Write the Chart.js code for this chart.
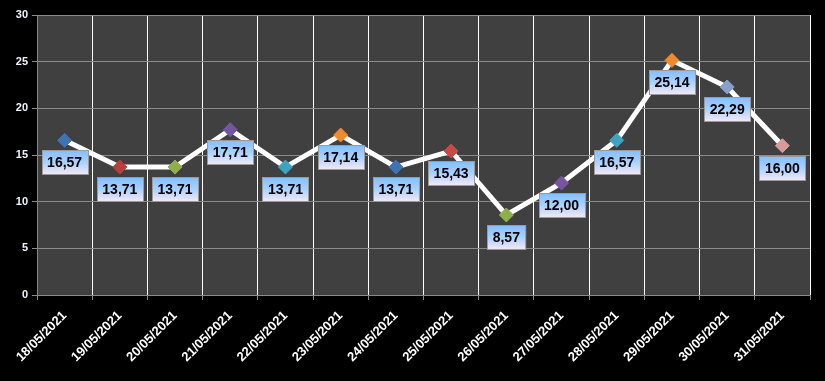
<!DOCTYPE html>
<html>
<head>
<meta charset="utf-8">
<script src="https://cdn.jsdelivr.net/npm/chart.js@4/dist/chart.umd.min.js"></script>
<style>
html,body{margin:0;padding:0;background:#000;}
#wrap{width:825px;height:381px;position:relative;}
</style>
</head>
<body>
<div id="wrap"><canvas id="c" width="825" height="381"></canvas></div>
<script>
const categories = ["18/05/2021","19/05/2021","20/05/2021","21/05/2021","22/05/2021","23/05/2021","24/05/2021","25/05/2021","26/05/2021","27/05/2021","28/05/2021","29/05/2021","30/05/2021","31/05/2021"];
const values = [16.57,13.71,13.71,17.71,13.71,17.14,13.71,15.43,8.57,12.00,16.57,25.14,22.29,16.00];
const yTicks = [0,5,10,15,20,25,30];
const markerColors = ["#3F73B5","#B8403C","#8DB04A","#7456A0","#3DA3C0","#F08A2E","#3F73B5","#C84A46","#8DB04A","#7456A0","#3DA3C0","#F08A2E","#889FC8","#D89A9A"];

const bgPlugin = {
  id:'bg',
  beforeDraw(chart){
    const {ctx, chartArea:a} = chart;
    ctx.save();
    ctx.fillStyle='#000';
    ctx.fillRect(0,0,chart.width,chart.height);
    ctx.fillStyle='#404040';
    ctx.fillRect(a.left,a.top,a.right-a.left,a.bottom-a.top);
    ctx.restore();
  }
};

const labelPlugin = {
  id:'dlabels',
  afterDatasetsDraw(chart){
    const ctx = chart.ctx;
    const meta = chart.getDatasetMeta(0);
    ctx.save();
    ctx.font = 'bold 14px "Liberation Sans", Arial, sans-serif';
    ctx.textAlign='center';
    ctx.textBaseline='middle';
    meta.data.forEach((pt,i)=>{
      const txt = values[i].toFixed(2).replace('.',',');
      const w = ctx.measureText(txt).width + 11;
      const h = 24;
      const cx = pt.x, cy = pt.y + 22;
      const x0 = Math.round(cx - w/2)+0.5, y0 = Math.round(cy - h/2)+0.5;
      const g = ctx.createLinearGradient(0,y0,0,y0+h);
      g.addColorStop(0,'#84BEFF');
      g.addColorStop(0.5,'#A9D2FF');
      g.addColorStop(1,'#F6E8F4');
      ctx.fillStyle=g;
      ctx.fillRect(x0,y0,w,h);
      ctx.strokeStyle='#9A9A9A';
      ctx.lineWidth=1;
      ctx.strokeRect(x0,y0,w,h);
      ctx.fillStyle='#000';
      ctx.fillText(txt,cx,cy+1);
    });
    ctx.restore();
  }
};

new Chart(document.getElementById('c'),{
  type:'line',
  data:{
    labels:categories,
    datasets:[{
      data:values,
      borderColor:'#FFFFFF',
      borderWidth:5,
      pointStyle:'rectRot',
      pointRadius:7,
      pointHoverRadius:7,
      pointBackgroundColor:markerColors,
      pointBorderColor:markerColors,
      pointBorderWidth:1,
      tension:0
    }]
  },
  options:{
    responsive:false,
    animation:false,
    events:[],
    layout:{padding:{left:0,top:15,right:15,bottom:0}},
    plugins:{legend:{display:false},tooltip:{enabled:false}},
    scales:{
      x:{
        offset:true,
        grid:{offset:true,color:'#FFFFFF',lineWidth:1,tickLength:5,tickColor:'#8A8A8A',drawOnChartArea:true},
        border:{color:'#8A8A8A'},
        ticks:{color:'#FFFFFF',font:{family:'"Liberation Sans", Arial, sans-serif',size:13,weight:'bold'},minRotation:45,maxRotation:45,autoSkip:false,padding:8},
        afterFit(s){s.height=86;}
      },
      y:{
        min:0,max:30,
        afterBuildTicks(s){s.ticks=yTicks.map(v=>({value:v}));},
        grid:{color:'#8A8A8A',lineWidth:1,tickLength:5},
        border:{color:'#8A8A8A'},
        ticks:{color:'#EEF4FF',font:{family:'"Liberation Sans", Arial, sans-serif',size:11,weight:'bold'},padding:4},
        afterFit(s){s.width=37;}
      }
    }
  },
  plugins:[bgPlugin,labelPlugin]
});
</script>
</body>
</html>
